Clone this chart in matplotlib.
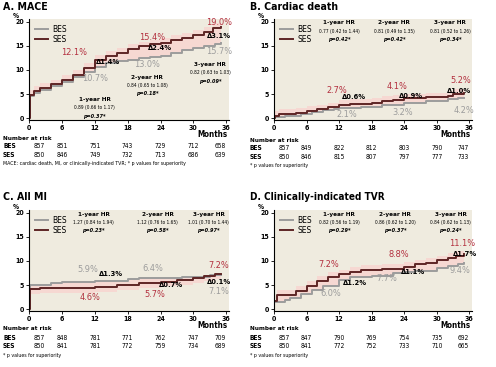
import matplotlib
matplotlib.use('Agg')
import matplotlib.pyplot as plt
from matplotlib.lines import Line2D
from matplotlib.transforms import blended_transform_factory
import numpy as np

plt.rcParams['font.family'] = ['Liberation Sans Narrow', 'DejaVu Sans']
plt.rcParams['font.stretch'] = 'condensed'

BG = '#efebdf'
PINK = '#f6d8d2'
GREY = '#9c9c9c'
DARK = '#5e2525'
RED = '#b3303f'

months_ticks = [0, 6, 12, 18, 24, 30, 36]

# --- A. MACE ---
a_ses_t = [0, 0.1, 1, 2, 4, 6, 8, 10, 12, 14, 16, 18, 20, 22, 24, 26, 28, 30, 32, 33.5, 35]
a_ses_v = [0, 4.8, 5.6, 6.3, 7.0, 7.9, 9.0, 10.5, 12.1, 13.0, 13.6, 14.3, 14.9, 15.3, 15.6, 16.2, 16.7, 17.3, 17.9, 18.7, 19.0]
a_bes_t = [0, 0.1, 1, 2, 4, 6, 8, 10, 12, 14, 16, 18, 20, 22, 24, 26, 28, 30, 32, 34, 35]
a_bes_v = [0, 4.6, 5.2, 5.8, 6.6, 7.5, 8.6, 9.6, 10.7, 11.4, 11.8, 12.1, 12.4, 12.7, 13.0, 13.6, 14.1, 14.5, 15.0, 15.5, 15.7]
a_risk_bes = [857, 851, 751, 743, 729, 712, 658]
a_risk_ses = [850, 846, 749, 732, 713, 686, 639]

# --- B. Cardiac death ---
b_ses_t = [0, 0.1, 1, 4, 6, 8, 10, 12, 14, 18, 20, 22, 24, 28, 32, 33, 35]
b_ses_v = [0, 0.5, 0.8, 1.0, 1.5, 1.8, 2.2, 2.7, 2.9, 3.2, 3.5, 3.8, 4.1, 4.3, 4.6, 5.0, 5.2]
b_bes_t = [0, 0.1, 2, 5, 7, 9, 11, 12, 16, 20, 24, 28, 32, 34, 35]
b_bes_v = [0, 0.3, 0.5, 0.8, 1.2, 1.6, 1.9, 2.1, 2.4, 2.8, 3.2, 3.6, 3.9, 4.2, 4.2]
b_risk_bes = [857, 849, 822, 812, 803, 790, 747]
b_risk_ses = [850, 846, 815, 807, 797, 777, 733]

# --- C. All MI ---
c_bes_t = [0, 0.1, 1, 4, 6, 12, 18, 20, 24, 28, 30, 33, 35]
c_bes_v = [0, 5.0, 5.1, 5.4, 5.6, 5.9, 6.2, 6.4, 6.4, 6.6, 6.7, 7.0, 7.1]
c_ses_t = [0, 0.1, 2, 6, 12, 16, 20, 24, 27, 30, 32, 34, 35]
c_ses_v = [0, 4.2, 4.3, 4.4, 4.6, 5.0, 5.4, 5.7, 6.0, 6.5, 6.9, 7.2, 7.2]
c_risk_bes = [857, 848, 781, 771, 762, 747, 709]
c_risk_ses = [850, 841, 781, 772, 759, 734, 689]

# --- D. Clinically-indicated TVR ---
d_ses_t = [0, 0.05, 0.5, 3, 4, 6, 8, 10, 12, 14, 16, 20, 24, 26, 28, 30, 32, 33.5, 35]
d_ses_v = [0, 1.6, 2.9, 3.0, 3.8, 4.8, 5.8, 6.7, 7.2, 7.8, 8.1, 8.4, 8.8, 9.3, 9.6, 10.1, 10.6, 11.1, 11.4]
d_bes_t = [0, 0.05, 2, 3, 5, 7, 9, 12, 14, 18, 22, 24, 26, 30, 32, 34, 35]
d_bes_v = [0, 1.5, 1.8, 2.4, 3.2, 4.0, 4.8, 6.0, 6.6, 6.9, 7.4, 7.7, 8.0, 8.6, 9.0, 9.4, 9.6]
d_risk_bes = [857, 847, 790, 769, 754, 735, 692]
d_risk_ses = [850, 841, 772, 752, 733, 710, 665]

W, H = 496, 367
fig = plt.figure(figsize=(W / 100, H / 100), dpi=100)


def px_axes(x0, y_top, x1, y_bot):
    return fig.add_axes([x0 / W, 1 - y_bot / H, (x1 - x0) / W, (y_bot - y_top) / H])


def step_on(t, v, grid):
    idx = np.searchsorted(t, grid, side='right') - 1
    return np.asarray(v)[idx]


def km_panel(ax, bes_t, bes_v, ses_t, ses_v, ses_above=True):
    ax.set_facecolor(BG)
    grid = np.union1d(bes_t, ses_t)
    b = step_on(bes_t, bes_v, grid)
    s = step_on(ses_t, ses_v, grid)
    pad = 1.0
    if ses_above:
        ax.fill_between(grid, b, s + pad, step='post', color=PINK, lw=0, where=grid > 0.05)
    else:
        ax.fill_between(grid, s - pad, b, step='post', color=PINK, lw=0, where=grid > 0.05)
    ax.plot(bes_t, bes_v, drawstyle='steps-post', color=GREY, lw=1.4)
    ax.plot(ses_t, ses_v, drawstyle='steps-post', color=DARK, lw=1.4)
    ax.set_xlim(0, 36.5)
    ax.set_ylim(-0.4, 20.6)
    ax.set_xticks(months_ticks)
    ax.set_yticks([0, 5, 10, 15, 20])
    for sp in ['top', 'right']:
        ax.spines[sp].set_visible(False)
    for sp in ['left', 'bottom']:
        ax.spines[sp].set_linewidth(0.8)
    ax.tick_params(labelsize=5, length=2, width=0.6, pad=1.5)
    for lab in ax.get_xticklabels() + ax.get_yticklabels():
        lab.set_fontweight('bold')
    ax.text(-0.05, 1.0, '%', transform=ax.transAxes, fontsize=4.8, fontweight='bold',
            ha='right', va='bottom')
    ax.text(36.3, -2.5, 'Months', fontsize=5.8, fontweight='bold', ha='right', va='top')
    handles = [Line2D([], [], color=GREY, lw=1.4), Line2D([], [], color=DARK, lw=1.4)]
    ax.legend(handles, ['BES', 'SES'], loc='upper left', frameon=False, fontsize=6,
              handlelength=1.6, handletextpad=0.5, borderaxespad=0.3, labelspacing=0.15)


def risk_table(ax, x_lab, y_head, bes, ses, foot):
    tr = blended_transform_factory(ax.transData, fig.transFigure)
    fy = lambda y: 1 - y / H
    fig.text(x_lab / W, fy(y_head), 'Number at risk', fontsize=4.6, fontweight='bold', va='center')
    for row, (name, vals) in enumerate([('BES', bes), ('SES', ses)]):
        yy = fy(y_head + 8.5 + row * 8.5)
        fig.text(x_lab / W, yy, name, fontsize=4.8, fontweight='bold', va='center')
        for i, (m, n) in enumerate(zip(months_ticks, vals)):
            ha = 'left' if i == 0 else ('right' if i == len(vals) - 1 else 'center')
            xm = m + (0.8 if i == 0 else 0)
            ax.text(xm, yy, str(n), transform=tr, fontsize=4.8, ha=ha, va='center')
    fig.text(x_lab / W, fy(y_head + 26), foot, fontsize=3.8, va='center')


def hr_block(ax, x, y, title, ci, p):
    ax.text(x, y, title, fontsize=4.6, fontweight='bold', ha='center', va='center')
    ax.text(x, y - 1.7, ci, fontsize=3.5, ha='center', va='center')
    ax.text(x, y - 3.4, p, fontsize=4.0, fontweight='bold', style='italic', ha='center', va='center')


def pct(ax, x, y, s, color, size=6.6, bold=False):
    ax.text(x, y, s, color=color, fontsize=size, ha='center', va='center',
            fontweight='bold' if bold else 'normal')


DS = 5.4  # size of delta labels

# Panel A
axA = px_axes(29, 19, 229, 120)
km_panel(axA, a_bes_t, a_bes_v, a_ses_t, a_ses_v)
fig.text(3 / W, 1 - 7 / H, 'A. MACE', fontsize=7.6, fontweight='bold', va='center')
pct(axA, 8.3, 13.6, '12.1%', RED)
pct(axA, 14.4, 11.7, '\u03941.4%', 'black', DS, True)
pct(axA, 12, 8.3, '10.7%', GREY)
hr_block(axA, 12, 3.8, '1-year HR', '0.89 (0.66 to 1.17)', 'p=0.37*')
pct(axA, 22.5, 16.8, '15.4%', RED)
pct(axA, 23.9, 14.5, '\u03942.4%', 'black', DS, True)
pct(axA, 21.6, 11.1, '13.0%', GREY)
hr_block(axA, 21.6, 8.5, '2-year HR', '0.84 (0.65 to 1.08)', 'p=0.18*')
pct(axA, 34.7, 19.9, '19.0%', RED)
pct(axA, 34.7, 17.1, '\u03943.1%', 'black', DS, True)
pct(axA, 34.7, 13.8, '15.7%', GREY)
hr_block(axA, 33.1, 11.1, '3-year HR', '0.82 (0.63 to 1.03)', 'p=0.09*')
risk_table(axA, 3, 138, a_risk_bes, a_risk_ses,
           'MACE: cardiac death, MI, or clinically-indicated TVR; * p values for superiority')

# Panel B
axB = px_axes(274, 19, 472, 120)
km_panel(axB, b_bes_t, b_bes_v, b_ses_t, b_ses_v)
fig.text(250 / W, 1 - 7 / H, 'B. Cardiac death', fontsize=7.6, fontweight='bold', va='center')
hr_block(axB, 12, 19.8, '1-year HR', '0.77 (0.42 to 1.44)', 'p=0.42*')
hr_block(axB, 22.2, 19.8, '2-year HR', '0.81 (0.49 to 1.35)', 'p=0.42*')
hr_block(axB, 32.5, 19.8, '3-year HR', '0.81 (0.52 to 1.26)', 'p=0.34*')
pct(axB, 11.5, 5.7, '2.7%', RED)
pct(axB, 14.8, 4.3, '\u03940.6%', 'black', DS, True)
pct(axB, 13.5, 0.8, '2.1%', GREY)
pct(axB, 22.6, 6.6, '4.1%', RED)
pct(axB, 25.2, 4.5, '\u03940.9%', 'black', DS, True)
pct(axB, 23.7, 1.2, '3.2%', GREY)
pct(axB, 34.4, 7.8, '5.2%', RED)
pct(axB, 34.2, 5.6, '\u03941.0%', 'black', DS, True)
pct(axB, 35.0, 1.6, '4.2%', GREY)
risk_table(axB, 250, 140, b_risk_bes, b_risk_ses, '* p values for superiority')

# Panel C
axC = px_axes(29, 210, 229, 311)
km_panel(axC, c_bes_t, c_bes_v, c_ses_t, c_ses_v, ses_above=False)
fig.text(3 / W, 1 - 197 / H, 'C. All MI', fontsize=7.6, fontweight='bold', va='center')
hr_block(axC, 11.8, 19.7, '1-year HR', '1.27 (0.84 to 1.94)', 'p=0.23*')
hr_block(axC, 23.5, 19.7, '2-year HR', '1.12 (0.76 to 1.65)', 'p=0.58*')
hr_block(axC, 32.8, 19.7, '3-year HR', '1.01 (0.70 to 1.44)', 'p=0.97*')
pct(axC, 10.8, 8.2, '5.9%', GREY)
pct(axC, 14.9, 7.2, '\u03941.3%', 'black', DS, True)
pct(axC, 11.1, 2.5, '4.6%', RED)
pct(axC, 22.6, 8.4, '6.4%', GREY)
pct(axC, 26.0, 5.1, '\u03940.7%', 'black', DS, True)
pct(axC, 23.0, 3.0, '5.7%', RED)
pct(axC, 34.7, 9.0, '7.2%', RED)
pct(axC, 34.7, 5.7, '\u03940.1%', 'black', DS, True)
pct(axC, 34.7, 3.6, '7.1%', GREY)
risk_table(axC, 3, 329, c_risk_bes, c_risk_ses, '* p values for superiority')

# Panel D
axD = px_axes(274, 210, 472, 311)
km_panel(axD, d_bes_t, d_bes_v, d_ses_t, d_ses_v)
fig.text(250 / W, 1 - 197 / H, 'D. Clinically-indicated TVR', fontsize=7.2, fontweight='bold', va='center')
hr_block(axD, 12, 19.7, '1-year HR', '0.82 (0.56 to 1.19)', 'p=0.29*')
hr_block(axD, 22.3, 19.7, '2-year HR', '0.86 (0.62 to 1.20)', 'p=0.37*')
hr_block(axD, 32.6, 19.7, '3-year HR', '0.84 (0.62 to 1.13)', 'p=0.24*')
pct(axD, 10, 9.3, '7.2%', RED)
pct(axD, 15, 5.4, '\u03941.2%', 'black', DS, True)
pct(axD, 10.5, 3.3, '6.0%', GREY)
pct(axD, 23, 11.4, '8.8%', RED)
pct(axD, 25.6, 7.8, '\u03941.1%', 'black', DS, True)
pct(axD, 20.8, 6.4, '7.7%', GREY)
pct(axD, 34.7, 13.6, '11.1%', RED)
pct(axD, 35.2, 11.5, '\u03941.7%', 'black', DS, True)
pct(axD, 34.3, 8.0, '9.4%', GREY)
risk_table(axD, 250, 329, d_risk_bes, d_risk_ses, '* p values for superiority')

fig.savefig('out.png', dpi=100)
